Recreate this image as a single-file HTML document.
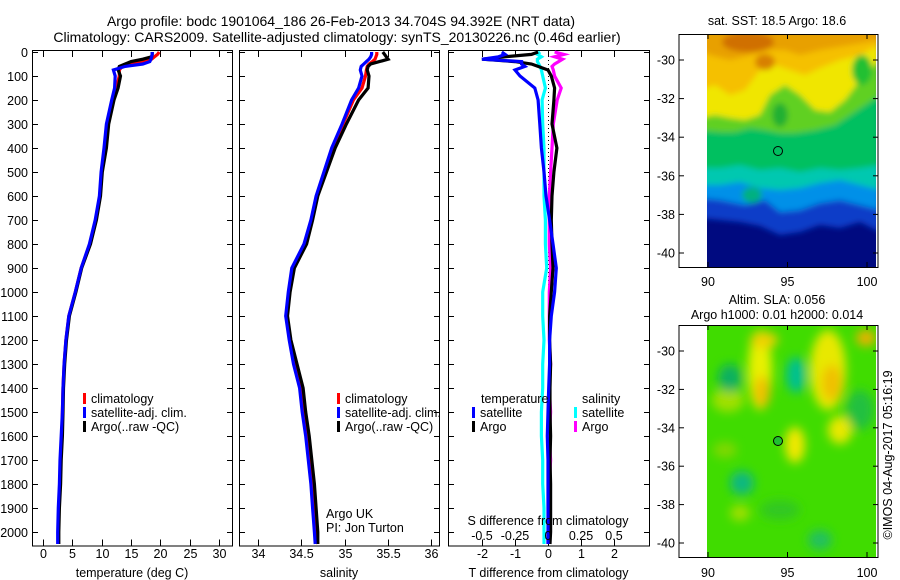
<!DOCTYPE html>
<html><head><meta charset="utf-8">
<style>
body{margin:0;background:#fff;}
svg{display:block;font-family:"Liberation Sans",sans-serif;}
text{font-size:12.5px;fill:#000;}
</style></head>
<body>
<svg id="chart" width="900" height="580" viewBox="0 0 900 580" xmlns="http://www.w3.org/2000/svg">
<defs>
<filter id="blur3"><feGaussianBlur stdDeviation="3"/></filter>
<filter id="blur5"><feGaussianBlur stdDeviation="5"/></filter>
<clipPath id="clipM1"><rect x="707" y="35" width="169" height="232"/></clipPath>
<clipPath id="clipM2"><rect x="707" y="326" width="169" height="231"/></clipPath>
</defs>
<text x="341" y="26" text-anchor="middle" style="font-size:14px">Argo profile: bodc 1901064_186 26-Feb-2013 34.704S 94.392E (NRT data)</text>
<text x="337" y="42" text-anchor="middle" style="font-size:14px">Climatology: CARS2009. Satellite-adjusted climatology: synTS_20130226.nc (0.46d earlier)</text>

<!-- Map 1 -->
<g>
<text x="777" y="25" text-anchor="middle">sat. SST: 18.5 Argo: 18.6</text>
<g clip-path="url(#clipM1)">
<rect x="707" y="35" width="169" height="232" fill="#000a80"/>
<g filter="url(#blur3)">
<path d="M700,30 L880,30 L880,232 L860,222 L840,228 L820,225 L800,232 L780,235 L760,226 L740,222 L720,220 L700,218 Z" fill="#0a3ec8"/>
<path d="M700,30 L880,30 L880,210 L860,205 L840,200 L820,203 L800,210 L780,212 L765,200 L745,205 L720,200 L700,198 Z" fill="#0090e8"/>
<path d="M700,30 L880,30 L880,190 L860,185 L840,180 L820,183 L800,188 L780,190 L760,188 L740,182 L720,185 L700,185 Z" fill="#00c8b0"/>
<path d="M700,30 L880,30 L880,165 L860,168 L840,170 L820,168 L800,172 L780,168 L760,170 L740,165 L720,168 L700,168 Z" fill="#00c060"/>
<path d="M700,30 L880,30 L880,95 L865,105 L850,115 L835,125 L815,130 L795,133 L780,133 L765,130 L750,128 L735,132 L720,132 L700,130 Z" fill="#60d020"/>
<path d="M700,30 L880,30 L880,60 L860,80 L845,100 L830,112 L815,110 L800,95 L785,85 L770,95 L760,115 L745,120 L730,118 L715,115 L700,118 Z" fill="#f0e600"/>
<path d="M700,30 L880,30 L880,45 L860,55 L840,60 L820,68 L805,75 L790,70 L775,65 L760,70 L745,90 L730,95 L715,85 L700,90 Z" fill="#f5c000"/>
<path d="M700,30 L880,30 L880,40 L850,45 L820,50 L800,55 L785,50 L770,50 L750,55 L730,60 L710,55 L700,50 Z" fill="#e8a000"/>
<ellipse cx="748" cy="42" rx="26" ry="10" fill="#d07000"/>
<ellipse cx="765" cy="62" rx="10" ry="8" fill="#d88000"/>
<ellipse cx="780" cy="115" rx="8" ry="12" fill="#20b030"/>
<ellipse cx="862" cy="70" rx="10" ry="15" fill="#20c030"/>
<ellipse cx="752" cy="195" rx="10" ry="8" fill="#00b080"/>
</g>
</g>
<rect x="679" y="34.5" width="199" height="233" fill="none" stroke="#000"/>
<circle cx="778" cy="151" r="4.5" fill="none" stroke="#000"/>
</g>

<!-- Map 2 -->
<g>
<text x="777" y="304" text-anchor="middle">Altim. SLA: 0.056</text>
<text x="777" y="319" text-anchor="middle">Argo h1000: 0.01 h2000: 0.014</text>
<g clip-path="url(#clipM2)">
<rect x="707" y="326" width="169" height="231" fill="#40dc00"/>
<g filter="url(#blur5)">
<ellipse cx="760" cy="370" rx="12" ry="40" fill="#e8f000"/>
<ellipse cx="762" cy="392" rx="8" ry="16" fill="#f0c000"/>
<ellipse cx="764" cy="340" rx="14" ry="8" fill="#f0d000"/>
<ellipse cx="828" cy="370" rx="18" ry="40" fill="#e8e800"/>
<ellipse cx="832" cy="383" rx="10" ry="18" fill="#f0c000"/>
<ellipse cx="866" cy="338" rx="10" ry="8" fill="#f0b000"/>
<ellipse cx="840" cy="430" rx="12" ry="14" fill="#e8e800"/>
<ellipse cx="795" cy="445" rx="10" ry="18" fill="#f0e800"/>
<ellipse cx="728" cy="400" rx="16" ry="12" fill="#a0e000"/>
<ellipse cx="860" cy="410" rx="14" ry="20" fill="#20c040"/>
<ellipse cx="730" cy="378" rx="12" ry="14" fill="#10b060"/>
<ellipse cx="796" cy="375" rx="10" ry="18" fill="#00c090"/>
<ellipse cx="742" cy="483" rx="12" ry="12" fill="#10b880"/>
<ellipse cx="725" cy="450" rx="12" ry="8" fill="#80d800"/>
<ellipse cx="740" cy="513" rx="10" ry="8" fill="#a0e000"/>
<ellipse cx="820" cy="540" rx="12" ry="10" fill="#20c060"/>
<ellipse cx="780" cy="510" rx="20" ry="10" fill="#30c820"/>
</g>
</g>
<rect x="679" y="325.5" width="199" height="232" fill="none" stroke="#000"/>
<circle cx="778" cy="441" r="4.5" fill="#20c030" stroke="#000"/>
</g>
<text transform="translate(892,455) rotate(-90)" text-anchor="middle">©IMOS 04-Aug-2017 05:16:19</text>

<g id="plots"></g>
</svg>
<script>
// Shared depth grid (m)
const depths = [0,10,20,30,40,50,60,75,100,150,200,300,400,500,600,700,800,900,1000,1100,1200,1300,1400,1500,1600,1700,1800,1900,2000,2050];
// Temperature (deg C)
const tempClim  = [19.8,19.5,19.0,18.5,17.0,15.0,13.5,13.0,13.0,12.5,11.9,11.0,10.6,10.0,9.7,9.0,8.0,6.5,5.5,4.4,3.9,3.6,3.4,3.3,3.2,3.0,2.9,2.7,2.6,2.6];
const tempSat   = [18.6,18.6,18.5,18.4,18.2,17.0,14.0,12.0,12.3,12.2,11.7,10.8,10.4,9.9,9.6,8.9,7.9,6.5,5.5,4.4,3.9,3.6,3.4,3.3,3.1,2.9,2.8,2.6,2.5,2.5];
const tempArgo  = [18.6,18.6,18.5,17.0,15.0,14.0,13.0,12.8,13.2,12.8,12.1,11.2,10.8,10.1,9.8,9.1,8.1,6.6,5.6,4.5,4.0,3.7,3.5,3.4,3.3,3.1,3.0,2.8,2.7,2.7];
// Salinity
const salClim   = [35.37,35.37,35.36,35.35,35.32,35.28,35.26,35.25,35.24,35.20,35.10,34.98,34.86,34.77,34.68,34.62,34.54,34.40,34.36,34.33,34.37,34.43,34.50,34.53,34.57,34.60,34.63,34.65,34.67,34.69];
const salSat    = [35.31,35.31,35.30,35.28,35.25,35.22,35.19,35.18,35.20,35.16,35.08,34.97,34.85,34.76,34.67,34.61,34.53,34.39,34.35,34.32,34.36,34.41,34.48,34.51,34.55,34.58,34.61,34.63,34.65,34.66];
const salArgo   = [35.44,35.46,35.48,35.50,35.40,35.30,35.27,35.26,35.28,35.27,35.16,35.02,34.89,34.79,34.69,34.63,34.56,34.42,34.37,34.34,34.38,34.45,34.52,34.55,34.59,34.62,34.65,34.67,34.69,34.69];
// Differences from climatology
const dTSat  = [-1.4,-1.3,-1.5,-2.0,-0.8,-0.8,-0.7,-1.0,-0.85,-0.4,-0.3,-0.25,-0.2,-0.12,-0.06,0.05,0.15,0.25,0.2,0.1,0.05,0.05,0.02,0.0,-0.02,0.0,0.0,0.0,0.0,0.0];
const dTArgo = [-0.3,-0.5,-1.3,-2.0,-1.0,-0.5,-0.3,0.0,0.1,0.2,0.18,0.12,0.27,0.18,0.12,0.1,0.12,0.15,0.1,0.05,0.05,0.08,0.06,0.06,0.08,0.06,0.08,0.08,0.08,0.06];
const dSSat  = [-0.06,-0.08,-0.05,-0.08,-0.08,-0.07,-0.06,-0.05,-0.04,-0.02,-0.045,-0.04,-0.03,-0.03,-0.03,-0.02,-0.02,-0.01,-0.04,-0.04,-0.03,-0.04,-0.04,-0.05,-0.05,-0.04,-0.04,-0.03,-0.03,-0.03];
const dSArgo = [0.05,0.12,0.05,0.11,0.08,0.05,0.03,0.04,0.05,0.1,0.07,0.04,0.03,0.02,0.01,0.01,0.01,0.02,0.01,0.01,0.01,0.02,0.01,0.02,0.01,0.02,0.01,0.01,0.0,0.0];
// Tick labels
const depthTicks = [0,100,200,300,400,500,600,700,800,900,1000,1100,1200,1300,1400,1500,1600,1700,1800,1900,2000];
const tempTicks = [0,5,10,15,20,25,30];
const salTicks = [34,34.5,35,35.5,36];
const dTTicks = [-2,-1,0,1,2];
const dSTicks = [-0.5,-0.25,0,0.25,0.5];
const latTicks = [-30,-32,-34,-36,-38,-40];
const lonTicks = [90,95,100];

const NS='http://www.w3.org/2000/svg';
const root=document.getElementById('plots');
function mk(tag,attrs,parent,txt){const e=document.createElementNS(NS,tag);for(const k in attrs)e.setAttribute(k,attrs[k]);if(txt!==undefined)e.textContent=txt;(parent||root).appendChild(e);return e;}
const yD=d=>52+d*0.24;
const PT=44, PB=545.5;

function panel(name,x0,x1,xs,ticks,fmt,labelY,xTitle,showDepth){
  const g=mk('g',{});
  
  
  mk('rect',{x:x0+0.5,y:PT+6.5,width:x1-x0,height:PB-PT-6,fill:'none',stroke:'#000'},g);
  depthTicks.forEach(d=>{
    const y=Math.round(yD(d))+0.5;
    mk('line',{x1:x0,x2:x0+6,y1:y,y2:y,stroke:'#000'},g);
    mk('line',{x1:x1-5,x2:x1+1,y1:y,y2:y,stroke:'#000'},g);
    if(showDepth){const t=mk('text',{x:28,y:y+4.5,'text-anchor':'end'},g,String(d));
      
      }
  });
  ticks.forEach(v=>{
    const x=Math.round(xs(v))+0.5;
    mk('line',{x1:x,x2:x,y1:PB,y2:PB-6,stroke:'#000'},g);
    mk('line',{x1:x,x2:x,y1:51,y2:57,stroke:'#000'},g);
    if(labelY){const t=mk('text',{x:x,y:labelY,'text-anchor':'middle'},g,fmt(v));
      
      }
  });
  if(xTitle){const t=mk('text',{x:(x0+x1)/2,y:577,'text-anchor':'middle'},g,xTitle);
    
    }
  return g;
}
function line(g,xs,vals,color,name,w){
  const pts=vals.map((v,i)=>xs(v).toFixed(1)+','+yD(depths[i]).toFixed(1)).join(' ');
  const p=mk('polyline',{points:pts,fill:'none',stroke:color,'stroke-width':w||3.2,'stroke-linejoin':'miter'},g);
  
  
}
function legend(g,x,y,color,label){
  mk('rect',{x:x,y:y-10,width:3,height:11,fill:color},g);
  const t=mk('text',{x:x+8,y:y},g,label);
  
  
}

// Panel 1 temperature
const xT=v=>43+v*5.87;
const g1=panel('temperature-panel',32,232,xT,tempTicks,String,558,'temperature (deg C)',true);
line(g1,xT,tempClim,'#ff0000','temp-climatology-line');
line(g1,xT,tempArgo,'#000000','temp-argo-line');
line(g1,xT,tempSat,'#0000ff','temp-satellite-line');
legend(g1,83,403,'#ff0000','climatology');
legend(g1,83,417,'#0000ff','satellite-adj. clim.');
legend(g1,83,431,'#000000','Argo(..raw -QC)');

// Panel 2 salinity
const xS=v=>258+(v-34)*86.7;
const g2=panel('salinity-panel',239,439,xS,salTicks,String,558,'salinity',false);
line(g2,xS,salClim,'#ff0000','sal-climatology-line');
line(g2,xS,salArgo,'#000000','sal-argo-line');
line(g2,xS,salSat,'#0000ff','sal-satellite-line');
legend(g2,337,403,'#ff0000','climatology');
legend(g2,337,417,'#0000ff','satellite-adj. clim.');
legend(g2,337,431,'#000000','Argo(..raw -QC)');
mk('text',{x:326,y:518},g2,'Argo UK');
mk('text',{x:326,y:532},g2,'PI: Jon Turton');

// Panel 3 differences
const xDT=v=>548+v*33;
const xDS=v=>548+v*132;
const g3=panel('difference-panel',448,649,xDT,dTTicks,String,558,'T difference from climatology',false);
mk('line',{x1:548.5,x2:548.5,y1:52,y2:545,stroke:'#000','stroke-dasharray':'1,3'},g3);
line(g3,xDS,dSSat,'#00ffff','sal-diff-satellite-line');
line(g3,xDS,dSArgo,'#ff00ff','sal-diff-argo-line');
line(g3,xDT,dTArgo,'#000000','temp-diff-argo-line');
line(g3,xDT,dTSat,'#0000ff','temp-diff-satellite-line');
const lt=mk('text',{x:481,y:403},g3,'temperature');
const ls=mk('text',{x:582,y:403},g3,'salinity');
legend(g3,472,417,'#0000ff','satellite');
legend(g3,472,431,'#000000','Argo');
legend(g3,574,417,'#00ffff','satellite');
legend(g3,574,431,'#ff00ff','Argo');
const st=mk('text',{x:548,y:525,'text-anchor':'middle'},g3,'S difference from climatology');


dSTicks.forEach(v=>{const t=mk('text',{x:xDS(v),y:540,'text-anchor':'middle'},g3,String(v));
  
  });

// Map axes
function mapAxes(yTop,yBot,lat30y,lat40y,labelY){
  const g=mk('g',{});
  
  
  latTicks.forEach(l=>{
    const y=lat30y+(-30-l)/10*(lat40y-lat30y);
    mk('line',{x1:679,x2:684,y1:y,y2:y,stroke:'#000'},g);
    mk('line',{x1:873,x2:878,y1:y,y2:y,stroke:'#000'},g);
    const t=mk('text',{x:675,y:y+4.5,'text-anchor':'end'},g,String(l));
    
    
  });
  lonTicks.forEach(l=>{
    const x=708+(l-90)*15.9;
    mk('line',{x1:x,x2:x,y1:yBot,y2:yBot-5,stroke:'#000'},g);
    mk('line',{x1:x,x2:x,y1:yTop,y2:yTop+4,stroke:'#000'},g);
    const t=mk('text',{x:x,y:labelY,'text-anchor':'middle'},g,String(l));
    
    
  });
}
mapAxes(35,267,60,253,286);
mapAxes(326,557,351,543,577);
</script>
</body></html>
